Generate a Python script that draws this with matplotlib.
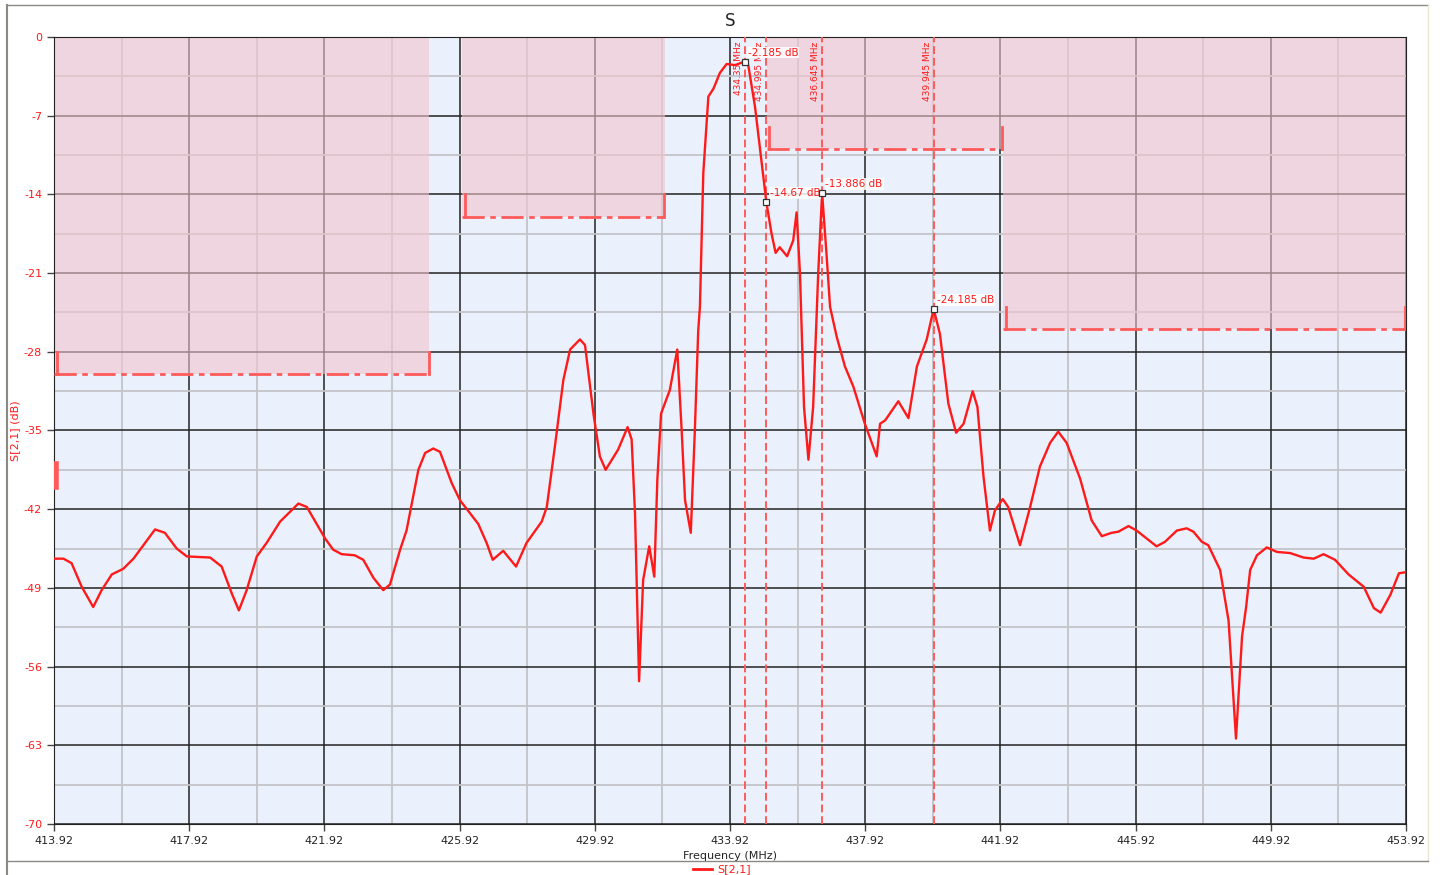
import numpy as np
import matplotlib.pyplot as plt
from matplotlib.patches import Rectangle
from matplotlib.lines import Line2D

# S21 trace (MHz, dB)
freq = [413.95, 414.2, 414.44, 414.74, 415.08, 415.33, 415.63, 415.97, 416.27, 416.91,
        417.2, 417.55, 417.85, 418.54, 418.88, 419.18, 419.39, 419.62, 419.92, 420.21,
        420.61, 421.15, 421.4, 421.94, 422.18, 422.43, 422.82, 423.07, 423.37, 423.66,
        423.86, 424.16, 424.35, 424.7, 424.9, 425.14, 425.34, 425.69, 425.93, 426.47,
        426.72, 426.9, 427.21, 427.59, 427.9, 428.35, 428.5, 428.74, 428.99, 429.19,
        429.48, 429.63, 429.88, 430.07, 430.24, 430.61, 430.89, 431.01, 431.11, 431.23,
        431.35, 431.53, 431.68, 431.77, 431.88, 432.14, 432.36, 432.49, 432.59, 432.76,
        432.88, 432.98, 433.03, 433.13, 433.28, 433.43, 433.62, 433.82, 434.07, 434.35,
        434.46, 434.66, 434.995, 435.15, 435.27, 435.39, 435.61, 435.79, 435.89, 435.99,
        436.11, 436.24, 436.38, 436.53, 436.645, 436.78, 436.88, 437.08, 437.32, 437.57,
        437.91, 438.26, 438.36, 438.51, 438.9, 439.2, 439.45, 439.74, 439.945, 440.13,
        440.38, 440.61, 440.83, 441.1, 441.24, 441.42, 441.61, 441.76, 441.99, 442.15,
        442.5, 442.8, 443.09, 443.39, 443.63, 443.88, 444.28, 444.62, 444.92, 445.21,
        445.41, 445.71, 445.95, 446.54, 446.79, 447.14, 447.43, 447.63, 447.88, 448.07,
        448.42, 448.67, 448.89, 449.07, 449.19, 449.31, 449.51, 449.8, 450.1, 450.49,
        450.89, 451.19, 451.48, 451.82, 452.22, 452.67, 452.97, 453.17, 453.46, 453.71,
        453.92]
s21 = [-46.4, -46.4, -46.8, -48.9, -50.7, -49.2, -47.8, -47.3, -46.4, -43.8,
       -44.1, -45.5, -46.2, -46.3, -47.1, -49.5, -51.0, -49.2, -46.2, -45.0,
       -43.1, -41.5, -41.8, -44.6, -45.6, -46.0, -46.1, -46.5, -48.1, -49.2,
       -48.7, -45.6, -43.9, -38.5, -37.0, -36.6, -36.9, -39.7, -41.2, -43.3,
       -45.0, -46.5, -45.7, -47.1, -45.0, -43.1, -41.8, -36.4, -30.5, -27.8,
       -26.9, -27.4, -33.5, -37.3, -38.5, -36.7, -34.7, -35.8, -42.4, -57.3,
       -48.3, -45.3, -48.0, -39.4, -33.5, -31.4, -27.8, -35.0, -41.2, -44.1,
       -35.0, -26.1, -24.0, -12.1, -5.3, -4.6, -3.2, -2.4, -2.5, -2.185,
       -2.5, -6.2, -14.67, -17.5, -19.2, -18.7, -19.5, -18.1, -15.6, -21.0,
       -32.9, -37.6, -32.9, -21.0, -13.886, -19.5, -24.0, -26.7, -29.3, -31.1,
       -34.4, -37.3, -34.4, -34.1, -32.4, -33.9, -29.3, -26.9, -24.185, -26.4,
       -32.6, -35.2, -34.4, -31.5, -32.9, -39.1, -43.9, -42.1, -41.1, -41.8,
       -45.2, -41.8, -38.2, -36.1, -35.1, -36.1, -39.3, -43.0, -44.4, -44.1,
       -44.0, -43.5, -43.9, -45.3, -44.9, -43.9, -43.7, -44.0, -44.9, -45.2,
       -47.4, -51.9, -62.4, -53.3, -50.7, -47.4, -46.1, -45.4, -45.8, -45.9,
       -46.3, -46.4, -46.0, -46.5, -47.8, -48.9, -50.8, -51.2, -49.6, -47.7,
       -47.6]

# limit masks: start, stop (MHz), limit (dB), top of end tick (dB)
mask_start = [413.92, 426.0, 435.0, 442.0]
mask_stop = [425.02, 432.0, 442.0, 453.92]
mask_level = [-30, -16, -10, -26]
mask_tick = [-28, -14, -8, -24]

# markers
mk_freq = [434.35, 434.995, 436.645, 439.945]
mk_db = [-2.185, -14.67, -13.886, -24.185]
mk_flabel = ['434.35 MHz', '434.995 MHz', '436.645 MHz', '439.945 MHz']
mk_dblabel = ['-2.185 dB', '-14.67 dB', '-13.886 dB', '-24.185 dB']

x_ticks = [413.92 + 4 * i for i in range(11)]
y_ticks = [0, -7, -14, -21, -28, -35, -42, -49, -56, -63, -70]

red = '#ff1a1a'
mask_col = '#ff5a5a'

fig = plt.figure(figsize=(14.4, 8.75), dpi=100)
ax = fig.add_axes([54 / 1440, 1 - 824 / 875, 1352 / 1440, 787 / 875])
ax.set_facecolor('#eaf0fc')
ax.set_xlim(413.92, 453.92)
ax.set_ylim(-70, 0)

# grid
for x in np.arange(413.92, 453.93, 2):
    major = abs((x - 413.92) % 4) < 1e-6
    ax.axvline(x, color='#222222' if major else '#c4c4c8', lw=1.1 if major else 1.3, zorder=1)
for y in np.arange(0, -70.1, -3.5):
    major = abs(y % 7) < 1e-6
    ax.axhline(y, color='#222222' if major else '#c4c4c8', lw=1.1 if major else 1.3, zorder=1)

# mask regions
for a, b, lvl, tk in zip(mask_start, mask_stop, mask_level, mask_tick):
    ax.add_patch(Rectangle((a, lvl), b - a, -lvl, facecolor='#f1c3cd', edgecolor='none',
                           alpha=0.6, zorder=2))
    ax.plot([a, b], [lvl, lvl], color=mask_col, lw=2, ls=(0, (8, 2, 2, 2)), zorder=3)
    ax.plot([a + 0.08, a + 0.08], [tk, lvl], color=mask_col, lw=2, zorder=3)
    ax.plot([b - 0.02, b - 0.02], [tk, lvl], color=mask_col, lw=2, zorder=3)
ax.plot([413.99, 413.99], [-38, -40], color=mask_col, lw=4, zorder=3)

# markers
for f, d, fl, dl in zip(mk_freq, mk_db, mk_flabel, mk_dblabel):
    ax.axvline(f, color=mask_col, lw=1.4, ls=(0, (4, 2)), zorder=4)
    ax.text(f - 0.06, -0.4, fl, rotation=90, ha='right', va='top', fontsize=6.5,
            color=red, zorder=6)
    ax.text(f + 0.1, d + 0.35, dl, ha='left', va='bottom', fontsize=7.5, color=red, zorder=7,
            bbox=dict(facecolor='white', edgecolor='none', alpha=0.85, pad=0.6))

ax.plot(freq, s21, color=red, lw=1.7, zorder=5, solid_joinstyle='round')
ax.plot(mk_freq, mk_db, 's', ms=5, mfc='white', mec='#333333', mew=0.9, zorder=8)

ax.set_xticks(x_ticks)
ax.set_xticklabels(['%.2f' % x for x in x_ticks], fontsize=8, color='#222222')
ax.set_yticks(y_ticks)
ax.set_yticklabels([str(y) for y in y_ticks], fontsize=8, color=red)
ax.tick_params(length=5, width=1, color='#444444')
for sp in ax.spines.values():
    sp.set_color('#222222')
ax.set_xlabel('Frequency (MHz)', fontsize=8, color='#222222', labelpad=4)
ax.set_ylabel('S[2,1] (dB)', fontsize=8, color=red, labelpad=3)
ax.set_title('S', fontsize=12, color='#222222', pad=8)

# outer frame and legend
fig.add_artist(Line2D([7 / 1440, 7 / 1440], [1 - 5 / 875, 0], color='#8a8a80', lw=1.5))
fig.add_artist(Line2D([7 / 1440, 1428 / 1440], [1 - 5 / 875, 1 - 5 / 875], color='#8a8a80', lw=1))
fig.add_artist(Line2D([1428 / 1440, 1428 / 1440], [1 - 5 / 875, 1 - 861 / 875], color='#ece4d4', lw=1))
fig.add_artist(Line2D([7 / 1440, 1428 / 1440], [1 - 861 / 875, 1 - 861 / 875], color='#8a8a80', lw=1))
fig.add_artist(Line2D([693 / 1440, 712 / 1440], [1 - 869 / 875, 1 - 869 / 875], color=red, lw=2))
fig.text(717 / 1440, 1 - 869 / 875, 'S[2,1]', color=red, fontsize=8, va='center', ha='left')

fig.savefig('out.png', dpi=100)
